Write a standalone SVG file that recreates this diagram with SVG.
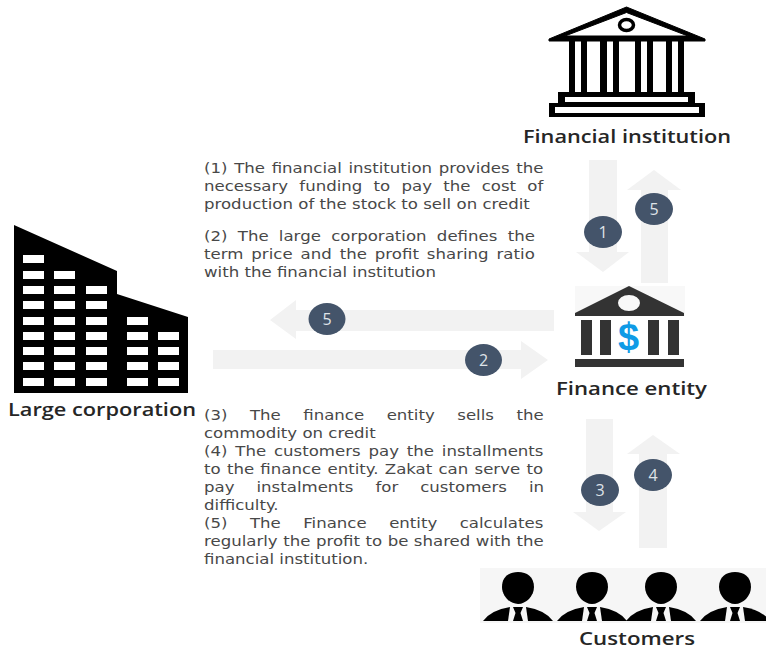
<svg xmlns="http://www.w3.org/2000/svg" width="766" height="650" viewBox="0 0 766 650">
<style>
.a{fill:#f2f2f2}
.c{fill:#44546a}
.n{fill:#dfe3e8;font-family:"Open Sans",sans-serif;font-size:16px;text-anchor:middle}
.t{font-family:"DejaVu Sans",sans-serif;font-size:13.600px;fill:#484848}
.l{font-family:"Open Sans",sans-serif;font-size:18px;font-weight:600;fill:#262626}
.k{fill:#000}
.w{fill:#fff}
</style>
<defs>
<g id="person">
<path d="M-16 587C-16 577 -9 572 0 572C9 572 16 577 16 587C16 596 8 604 0 604C-8 604 -16 596 -16 587Z"/>
<path d="M-35 621Q-27 610 -8 607L-10 621Z"/>
<path d="M35 621Q27 610 8 607L10 621Z"/>
<path d="M-5 607H5L2.500 613L5 621H-5L-2.500 613Z"/>
</g>
</defs>
<rect width="766" height="650" fill="#fff"/>
<g id="connectors">
<path class="a" d="M589 160H617V252H629L603 272L576 252H589Z"/>
<path class="a" d="M641 283V190H627L654 170L681 190H668V283Z"/>
<path class="a" d="M554 310V331H296V339L270 320L296 300V310Z"/>
<path class="a" d="M213 350H521V341L548 360L521 379V369H213Z"/>
<path class="a" d="M586 419H613V512H626L599 531L573 512H586Z"/>
<path class="a" d="M639 548V454H627L653 435L680 454H667V548Z"/>
<g>
<ellipse class="c" cx="603" cy="232" rx="19" ry="16"/><text class="n" x="603" y="238">1</text>
<ellipse class="c" cx="654" cy="209" rx="19" ry="16"/><text class="n" x="654" y="215">5</text>
<ellipse class="c" cx="327" cy="319" rx="18.500" ry="16"/><text class="n" x="327" y="325">5</text>
<ellipse class="c" cx="483.500" cy="360" rx="18.500" ry="16"/><text class="n" x="483.500" y="366">2</text>
<ellipse class="c" cx="600" cy="490" rx="19" ry="16"/><text class="n" x="600" y="496">3</text>
<ellipse class="c" cx="653" cy="475" rx="19" ry="16"/><text class="n" x="653" y="481">4</text>
</g>
</g>
<g id="financial-institution">
<path class="k" stroke="#000" stroke-linejoin="round" stroke-width="1" d="M626.500 7L705 39V41H549V39ZM626.500 12.500L565 36H688Z" fill-rule="evenodd"/>
<ellipse cx="626.500" cy="25" rx="7" ry="5.500" fill="none" stroke="#000" stroke-width="3.500"/>
<g class="k">
<rect x="569" y="41" width="6" height="52"/><rect x="581" y="41" width="6" height="52"/>
<rect x="600" y="41" width="7" height="52"/><rect x="613" y="41" width="6" height="52"/>
<rect x="635" y="41" width="6" height="52"/><rect x="647" y="41" width="6" height="52"/>
<rect x="666" y="41" width="6" height="52"/><rect x="678" y="41" width="6" height="52"/>
<path fill-rule="evenodd" d="M558 92H695V103H705V117H549V103H558ZM565 97V102H688V97ZM555 107V113H699V107Z"/>
</g>
<text class="l" x="523" y="143" textLength="208" lengthAdjust="spacingAndGlyphs">Financial institution</text>
</g>
<g id="large-corporation">
<path class="k" d="M14 225L117 271V294L188 317V393H14Z"/>
<g class="w">
<rect x="23" y="255" width="21" height="8"/>
<rect x="23" y="271" width="21" height="8"/><rect x="54" y="271" width="21" height="8"/>
<rect x="23" y="286" width="21" height="8"/><rect x="54" y="286" width="21" height="8"/><rect x="86" y="286" width="21" height="8"/>
<rect x="23" y="301" width="21" height="8"/><rect x="54" y="301" width="21" height="8"/><rect x="86" y="301" width="21" height="8"/>
<rect x="23" y="317" width="21" height="8"/><rect x="54" y="317" width="21" height="8"/><rect x="86" y="317" width="21" height="8"/><rect x="127" y="317" width="21" height="8"/>
<rect x="23" y="332" width="21" height="8"/><rect x="54" y="332" width="21" height="8"/><rect x="86" y="332" width="21" height="8"/><rect x="127" y="332" width="21" height="8"/><rect x="158" y="332" width="21" height="8"/>
<rect x="23" y="347" width="21" height="8"/><rect x="54" y="347" width="21" height="8"/><rect x="86" y="347" width="21" height="8"/><rect x="127" y="347" width="21" height="8"/><rect x="158" y="347" width="21" height="8"/>
<rect x="23" y="362" width="21" height="8"/><rect x="54" y="362" width="21" height="8"/><rect x="86" y="362" width="21" height="8"/><rect x="127" y="362" width="21" height="8"/><rect x="158" y="362" width="21" height="8"/>
<rect x="23" y="378" width="21" height="8"/><rect x="54" y="378" width="21" height="8"/><rect x="86" y="378" width="21" height="8"/><rect x="127" y="378" width="21" height="8"/><rect x="158" y="378" width="21" height="8"/>
</g>
<text class="l" x="8" y="416" textLength="188" lengthAdjust="spacingAndGlyphs">Large corporation</text>
</g>
<g id="finance-entity">
<rect x="575" y="286" width="110" height="30" fill="#f8f8f8"/>
<path fill="#333" fill-rule="evenodd" d="M629 286L684 313V316H575V313ZM640 303A11 8 0 1 0 618 303A11 8 0 1 0 640 303Z"/>
<g fill="#333">
<rect x="581" y="320" width="11" height="35"/><rect x="600" y="320" width="11" height="35"/>
<rect x="648" y="320" width="11" height="35"/><rect x="668" y="320" width="11" height="35"/>
<rect x="575" y="359" width="109" height="8"/>
</g>
<text x="628.500" y="350" fill="#0f9be6" text-anchor="middle" font-family="Liberation Sans, sans-serif" font-weight="bold" font-size="38">$</text>
<text class="l" x="556" y="395" textLength="151" lengthAdjust="spacingAndGlyphs">Finance entity</text>
</g>
<g id="customers">
<rect x="480" y="568" width="286" height="55" fill="#f6f6f6"/>
<use href="#person" x="518"/>
<use href="#person" x="592"/>
<use href="#person" x="661"/>
<use href="#person" x="735"/>
<text class="l" x="579" y="645" textLength="116" lengthAdjust="spacingAndGlyphs">Customers</text>
</g>
<g id="notes" class="t" transform="translate(204 0) scale(1.22 1)">
<text y="173" word-spacing="1.15">(1) The financial institution provides the</text>
<text y="191" word-spacing="4.9">necessary funding to pay the cost of</text>
<text y="209">production of the stock to sell on credit</text>
<text y="241" word-spacing="4.1">(2) The large corporation defines the</text>
<text y="259" word-spacing="2.2">term price and the profit sharing ratio</text>
<text y="277">with the financial institution</text>
<text y="420" word-spacing="14.1">(3) The finance entity sells the</text>
<text y="438">commodity on credit</text>
<text y="456" word-spacing="2.1">(4) The customers pay the installments</text>
<text y="474" word-spacing="0.8">to the finance entity. Zakat can serve to</text>
<text y="492" word-spacing="13.7">pay instalments for customers in</text>
<text y="510">difficulty.</text>
<text y="528" word-spacing="14.1">(5) The Finance entity calculates</text>
<text y="546" word-spacing="0.2">regularly the profit to be shared with the</text>
<text y="564">financial institution.</text>
</g>
</svg>
